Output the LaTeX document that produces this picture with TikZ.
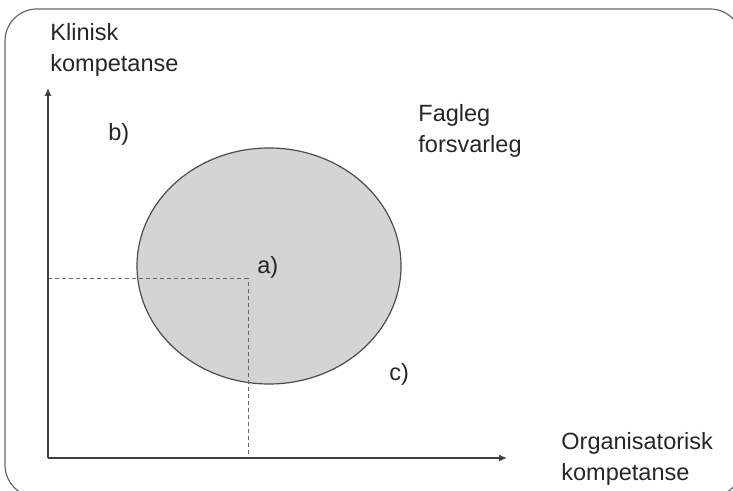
\documentclass[tikz,border=0pt]{standalone}
\usepackage{fontspec}
\setmainfont{Liberation Sans}
\usetikzlibrary{arrows.meta,shapes.geometric}
\begin{document}
\begin{tikzpicture}[x=0.5pt,y=-0.5pt,
  lbl/.style={font=\fontsize{11.75pt}{15.5pt}\selectfont, inner sep=0pt, align=left, anchor=base west, text=black!85},
  axis/.style={draw=black!75, line width=0.6pt, -{Latex[length=4pt,width=3.5pt]}},
  guide/.style={draw=black!60, line width=0.5pt, dash pattern=on 2pt off 1.5pt}]
\useasboundingbox (0,0) rectangle (733,491);
\begin{scope}
\clip (0,0) rectangle (733,491);
\draw[black!60, line width=0.6pt, rounded corners=16pt] (5,9) rectangle (742,497);
\end{scope}
\coordinate (o) at (48,458);
\coordinate (ytop) at (48,88);
\coordinate (xend) at (507,458);
\coordinate (p) at (248,279);
\coordinate (py) at (48,279);
\coordinate (px) at (248,458);
\node[ellipse, draw=black!70, fill=black!17, line width=0.6pt, minimum width=132pt, minimum height=118pt, inner sep=0pt] (circ) at (269,266) {};
\draw[guide] (py) -- (p) -- (px);
\draw[axis] (o) -- (ytop);
\draw[axis] (o) -- (xend);
\node[lbl] (ylab) at (50,72) {Klinisk\\kompetanse};
\node[lbl] (xlab) at (561,480) {Organisatorisk\\kompetanse};
\node[lbl] (fag) at (418,153) {Fagleg\\forsvarleg};
\node[lbl] (a) at (257,274) {a)};
\node[lbl] (b) at (108,141) {b)};
\node[lbl] (c) at (389,380) {c)};
\end{tikzpicture}
\end{document}
